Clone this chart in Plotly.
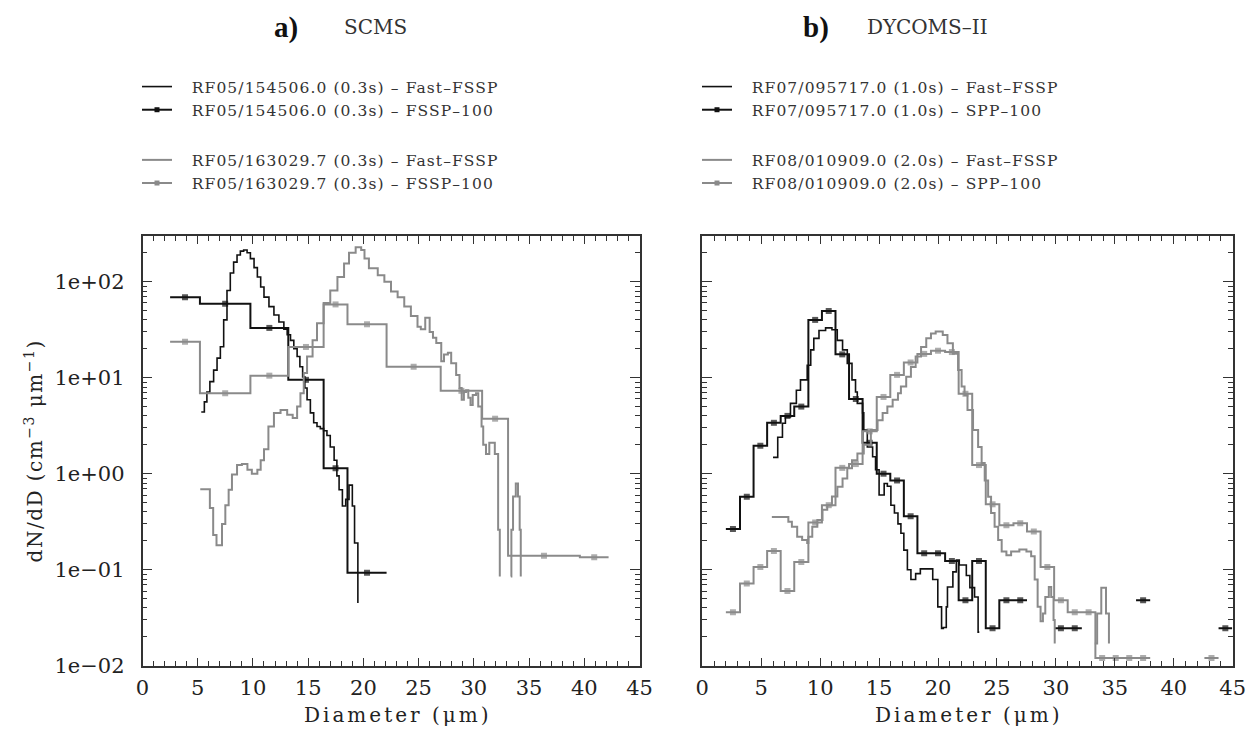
import plotly.graph_objects as go

# ---------------- Panel a) SCMS ----------------
# Fast-FSSP RF05/154506.0 (0.3s): bin left edges (um) and dN/dD
a_fast1_d = [5.32, 5.6, 5.83, 6.1, 6.44, 6.75, 7.05, 7.35, 7.65, 7.95, 8.25, 8.56, 8.86, 9.16, 9.47, 9.77,
             10.1, 10.4, 10.7, 11.0, 11.45, 11.9, 12.35, 12.8, 13.1, 13.4, 13.7, 14.0, 14.25, 14.5, 14.7,
             14.9, 15.2, 15.5, 15.8, 16.1, 16.4, 16.7, 17.0, 17.35, 17.6, 17.8, 18.1, 18.4, 18.7, 19.0,
             19.2, 19.5]
a_fast1_v = [4.4, 5.6, 7.1, 9.1, 12, 16, 21, 40, 81, 123, 160, 190, 208, 214, 200, 174,
             140, 112, 88, 69, 55, 45, 38, 32, 28, 24.5, 20, 16.6, 13, 10.2, 7.8,
             5.9, 4.3, 3.4, 3.1, 2.95, 2.8, 2.5, 1.9, 1.38, 0.95, 0.68, 0.46, 0.54, 0.76, 0.46,
             0.19, 0.045]

# FSSP-100 RF05/154506.0: bin edges and values
a_fssp1_edges = [2.5, 5.2, 9.77, 13.2, 16.4, 18.56, 22.1]
a_fssp1_v = [69, 59, 33, 9.5, 1.14, 0.093]

# Fast-FSSP RF05/163029.7
a_fast2_d = [5.23, 6.1, 6.4, 6.7, 7.2, 7.5, 7.8, 8.1, 8.56, 9.0, 9.5, 9.9, 10.4, 10.7, 11.0, 11.4,
             11.9, 12.5, 13.1, 13.6, 14.0, 14.3, 14.6, 14.9, 15.4, 15.8, 16.4, 17.0, 17.65, 18.25,
             18.7, 19.3, 19.8, 20.1, 20.5, 21.3, 21.9, 22.5, 23.1, 23.7, 24.3, 24.9, 25.2, 25.6,
             26.0, 26.3, 26.6, 27.05, 27.3, 27.65, 27.95, 28.4, 28.7, 28.9, 29.1, 29.3, 29.5, 29.7,
             29.9, 30.2, 30.4, 30.7, 30.85, 31.1, 31.4, 31.9, 32.2, 32.35, None,
             33.35, 33.4, 33.55, 33.8, 34.0, 34.15, 34.25]
a_fast2_v = [0.69, 0.44, 0.23, 0.18, 0.30, 0.47, 0.68, 0.98, 1.23, 1.26, 1.1, 1.0, 1.1, 1.38, 1.8, 3.1,
             4.3, 4.6, 4.1, 3.8, 5.0, 6.9, 11.2, 16.6, 24.5, 37, 60, 81, 112, 155,
             200, 229, 214, 174, 138, 117, 100, 79, 69, 55, 44, 34, 32, 42,
             30, 26, 23, 14.8, 17.4, 18.2, 14.1, 10.7, 7.8, 5.9, 7.1, 7.4, 6.2, 5.2,
             6.6, 6.9, 5.0, 3.1, 2.0, 1.6, 2.1, 1.6, 0.26, 0.085, None,
             0.085, 0.26, 0.58, 0.79, 0.58, 0.26, 0.085]

# FSSP-100 RF05/163029.7
a_fssp2_edges = [2.5, 5.2, 9.77, 13.2, 16.4, 18.56, 22.1, 27.0, 30.75, 33.1, 39.6, 42.2]
a_fssp2_v = [23.7, 6.9, 10.5, 20.9, 58, 36, 13.0, 7.3, 3.74, 0.14, 0.135]

# ---------------- Panel b) DYCOMS-II ----------------
# Fast-FSSP RF07/095717.0 (1.0s)
b_fast1_d = [6.0, 6.4, 6.8, 7.05, 7.48, 7.98, 8.33, 8.9, 9.2, 9.46, 9.9, 10.46, 11.0, 11.45, 11.9,
             12.3, 12.7, 13.0, 13.15, 13.6, 13.7, 14.0, 14.45, 14.7, 15.0, 15.43, 15.7, 16.0, 16.3,
             16.6, 16.85, 17.1, 17.4, 17.7, 18.1, 18.5, 19.55, 19.98, 20.3, 20.45, 20.7, 20.8, 21.26,
             21.55, 21.8, 22.4, 22.7, 23.1, 23.4, 23.5]
b_fast1_v = [1.48, 2.4, 3.35, 3.9, 5.4, 7.4, 9.5, 13.5, 19.5, 25.7, 31, 33, 31.6, 24.5, 19.5,
             14.1, 9.5, 7.1, 5.4, 4.3, 2.85, 1.9, 1.5, 1.1, 0.6, 0.79, 0.74, 0.47, 0.39,
             0.30, 0.24, 0.16, 0.10, 0.079, 0.091, 0.102, 0.079, 0.041, 0.0245, 0.025, 0.041, 0.066, 0.095,
             0.126, 0.112, 0.087, 0.065, 0.052, 0.0224, 0.0224]

# Fast-FSSP RF08/010909.0 (2.0s)
b_fast2_d = [5.9, 7.3, 7.6, 8.05, 8.47, 8.9, 9.0, 9.33, 9.76, 10.2, 10.6, 11.0, 11.46, 11.9, 12.3,
             12.7, 13.16, 13.7, 14.3, 14.87, 15.3, 15.7, 16.15, 16.6, 16.85, 17.3, 17.7, 18.1, 18.56,
             19.0, 19.4, 19.8, 20.4, 20.8, 21.26, 21.7, 22.0, 22.25, 22.5, 22.97, 23.4, 23.7, 23.96,
             24.25, 24.5, 24.8, 25.1, 25.4, 25.8, 26.2, 26.9, 27.5, 27.9, 28.2, 28.45, 28.7, 28.9,
             29.1, 29.4, 29.6, 29.8, 29.9, None,
             33.3, 33.5, 33.85, 34.25, 34.5]
b_fast2_v = [0.355, 0.316, 0.28, 0.22, 0.204, 0.19, 0.22, 0.28, 0.33, 0.42, 0.47, 0.58, 0.73, 0.89, 1.14,
             1.38, 1.62, 2.0, 2.85, 3.6, 4.3, 5.0, 5.9, 6.9, 8.1, 10.2, 12.9, 16.6, 20.9,
             25.7, 28.8, 30.2, 27.9, 22.9, 17.8, 12.0, 8.1, 6.6, 4.6, 2.85, 1.9, 1.29, 0.85,
             0.575, 0.39, 0.28, 0.204, 0.155, 0.141, 0.155, 0.162, 0.155, 0.138, 0.079, 0.041, 0.029, 0.035,
             0.052, 0.066, 0.052, 0.030, 0.017, None,
             0.017, 0.035, 0.065, 0.035, 0.017]

# SPP-100 bin edges (um)
b_spp_edges = [2.0, 3.2, 4.35, 5.5, 6.65, 7.8, 9.0, 10.15, 11.3, 12.45, 13.6, 14.8, 15.95, 17.1,
               18.25, 19.4, 20.6, 21.75, 22.9, 24.05, 25.2, 26.4, 27.55, 28.7, 29.85, 31.0, 32.2,
               33.35, 34.5, 35.65, 36.8, 38.0, 39.15, 40.3, 41.45, 42.6, 43.8, 44.95]
# SPP-100 RF07/095717.0 (None = empty bin)
b_spp1_v = [0.265, 0.575, 1.95, 3.39, 4.0, 5.0, 40, 49.5, 17.5, 6.0, 2.1, 1.0, 0.85, 0.36,
            0.148, 0.148, 0.123, 0.048, 0.123, 0.0245, 0.048, 0.048, None, None, 0.0245, 0.0245, None,
            None, None, None, 0.048, None, None, None, None, None, 0.0245]
# SPP-100 RF08/010909.0
b_spp2_v = [0.036, 0.072, 0.107, 0.157, 0.060, 0.12, 0.31, 0.47, 1.15, 1.26, 2.76, 6.3, 10.7, 14.4,
            17.7, 19.1, 18.5, 6.8, 1.23, 0.48, 0.29, 0.304, 0.25, 0.107, 0.048, 0.036, 0.036,
            0.012, 0.012, 0.012, 0.012, None, None, None, None, 0.012, None]

y_tickvals = [0.01, 0.1, 1, 10, 100]
y_ticktext = ["1e\u221202", "1e\u221201", "1e+00", "1e+01", "1e+02"]

BLACK = "#111111"
GRAY = "#8a8a8a"
SERIF = "DejaVu Serif"
MS = 6
PAD = "\u00a0\u00a0\u00a0"


def hist_steps(edges, vals):
    """Step outline of a binned histogram with a marker at each bin centre."""
    xs, ys, ss = [], [], []
    for i, v in enumerate(vals):
        if v is None:
            continue
        xs += [edges[i], (edges[i] + edges[i + 1]) / 2]
        ys += [v, v]
        ss += [0, MS]
        nxt = vals[i + 1] if i + 1 < len(vals) else None
        if nxt is None:
            xs += [edges[i + 1], None]
            ys += [v, None]
            ss += [0, 0]
    return xs, ys, ss


def lbl(t):
    return PAD + '<span style="letter-spacing:1.1px">' + t + '</span>'


fig = go.Figure()


def add_fast(x, y, color, name, xa, ya, leg, group, width=1.6):
    fig.add_trace(go.Scatter(x=x, y=y, mode="lines", line=dict(color=color, width=width, shape="hv"),
                             name=lbl(name), xaxis=xa, yaxis=ya, legend=leg, legendgroup=group,
                             connectgaps=False, hoverinfo="skip"))


def add_hist(edges, vals, color, name, xa, ya, leg, group, width=2.0):
    xs, ys, ss = hist_steps(edges, vals)
    fig.add_trace(go.Scatter(x=xs, y=ys, mode="lines+markers",
                             line=dict(color=color, width=width, shape="hv"),
                             marker=dict(symbol="square", size=ss, color=color, line=dict(width=0)),
                             name=lbl(name), xaxis=xa, yaxis=ya, legend=leg, legendgroup=group,
                             showlegend=False, connectgaps=False, hoverinfo="skip"))
    # legend key (line with a bin-centre marker)
    fig.add_trace(go.Scatter(x=[None], y=[None], mode="lines+markers",
                             line=dict(color=color, width=width),
                             marker=dict(symbol="square", size=5, color=color),
                             name=lbl(name), xaxis=xa, yaxis=ya, legend=leg, legendgroup=group,
                             hoverinfo="skip"))


add_fast(a_fast1_d, a_fast1_v, BLACK, "RF05/154506.0 (0.3s) \u2013 Fast\u2013FSSP", "x", "y", "legend", "a1")
add_hist(a_fssp1_edges, a_fssp1_v, BLACK, "RF05/154506.0 (0.3s) \u2013 FSSP\u2013100", "x", "y", "legend", "a1")
add_fast(a_fast2_d, a_fast2_v, GRAY, "RF05/163029.7 (0.3s) \u2013 Fast\u2013FSSP", "x", "y", "legend", "a2", 2.0)
add_hist(a_fssp2_edges, a_fssp2_v, GRAY, "RF05/163029.7 (0.3s) \u2013 FSSP\u2013100", "x", "y", "legend", "a2")

add_fast(b_fast1_d, b_fast1_v, BLACK, "RF07/095717.0 (1.0s) \u2013 Fast\u2013FSSP", "x2", "y2", "legend2", "b1")
add_hist(b_spp_edges, b_spp1_v, BLACK, "RF07/095717.0 (1.0s) \u2013 SPP\u2013100", "x2", "y2", "legend2", "b1")
add_fast(b_fast2_d, b_fast2_v, GRAY, "RF08/010909.0 (2.0s) \u2013 Fast\u2013FSSP", "x2", "y2", "legend2", "b2", 2.0)
add_hist(b_spp_edges, b_spp2_v, GRAY, "RF08/010909.0 (2.0s) \u2013 SPP\u2013100", "x2", "y2", "legend2", "b2")

W, H = 1259, 736
xa_dom = [142.5 / W, 639.5 / W]
xb_dom = [702.3 / W, 1232.7 / W]
y_dom = [(H - 665.7) / H, (H - 236) / H]

minor_y = [m * 10 ** e for e in (-2, -1, 0, 1, 2) for m in range(2, 10) if m * 10 ** e < 300]

tickfont = dict(family=SERIF, size=21, color="#222222")
common_x = dict(range=[0, 45], tickmode="linear", tick0=0, dtick=5, ticks="inside", ticklen=8,
                tickwidth=1.3, tickcolor="#333",
                showline=True, linecolor="#333", linewidth=1.5, mirror="ticks", showgrid=False,
                zeroline=False, tickfont=tickfont, automargin=False, ticklabelstandoff=2,
                minor=dict(tickmode="linear", tick0=0, dtick=1, ticks="inside", ticklen=5, tickwidth=1.1,
                           tickcolor="#333", showgrid=False))
common_y = dict(type="log", range=[-2, 2.476], tickvals=y_tickvals, ticktext=y_ticktext,
                ticks="inside", ticklen=10, tickwidth=1.3, tickcolor="#333",
                showline=True, linecolor="#333", linewidth=1.5, mirror="ticks", showgrid=False,
                zeroline=False, tickfont=tickfont, automargin=False, ticklabelstandoff=12,
                minor=dict(tickvals=minor_y, ticks="inside", ticklen=5, tickwidth=1.1, tickcolor="#333",
                           showgrid=False))

legend_common = dict(y=1 - 70 / H, xanchor="left", yanchor="top", traceorder="grouped",
                     tracegroupgap=27, font=dict(family=SERIF, size=15.5, color="#333"),
                     bgcolor="rgba(0,0,0,0)", itemwidth=30)

x_title = '<span style="letter-spacing:3px">Diameter (\u03bcm)</span>'
title_font = dict(family=SERIF, size=20, color="#222")

fig.update_layout(
    width=W, height=H, margin=dict(l=0, r=0, t=0, b=0),
    paper_bgcolor="white", plot_bgcolor="white",
    xaxis=dict(domain=xa_dom, anchor="y", **common_x),
    yaxis=dict(domain=y_dom, anchor="x", **common_y,
               title=dict(text='<span style="letter-spacing:1.5px">dN/dD (cm<sup>\u22123</sup> \u03bcm<sup>\u22121</sup>)</span>',
                          font=dict(family=SERIF, size=20, color="#222"), standoff=6)),
    xaxis2=dict(domain=xb_dom, anchor="y2", **common_x),
    yaxis2=dict(domain=y_dom, anchor="x2", **common_y, showticklabels=False),
    legend=dict(x=137 / W, **legend_common),
    legend2=dict(x=697 / W, **legend_common),
    annotations=[
        dict(text="<b>a)</b>", x=286 / W, y=1 - 27 / H, xref="paper", yref="paper", showarrow=False,
             xanchor="center", yanchor="middle", font=dict(family="Liberation Serif", size=29, color="#111")),
        dict(text="SCMS", x=342 / W, y=1 - 27 / H, xref="paper", yref="paper", showarrow=False,
             xanchor="left", yanchor="middle", font=dict(family=SERIF, size=20, color="#333")),
        dict(text="<b>b)</b>", x=816 / W, y=1 - 27 / H, xref="paper", yref="paper", showarrow=False,
             xanchor="center", yanchor="middle", font=dict(family="Liberation Serif", size=29, color="#111")),
        dict(text="DYCOMS\u2013II", x=865 / W, y=1 - 27 / H, xref="paper", yref="paper", showarrow=False,
             xanchor="left", yanchor="middle", font=dict(family=SERIF, size=20, color="#333")),
        dict(text=x_title, x=398 / W, y=1 - 715 / H, xref="paper", yref="paper", showarrow=False,
             xanchor="center", yanchor="middle", font=title_font),
        dict(text=x_title, x=969 / W, y=1 - 715 / H, xref="paper", yref="paper", showarrow=False,
             xanchor="center", yanchor="middle", font=title_font),
    ],
)

fig.write_html("out.html")
